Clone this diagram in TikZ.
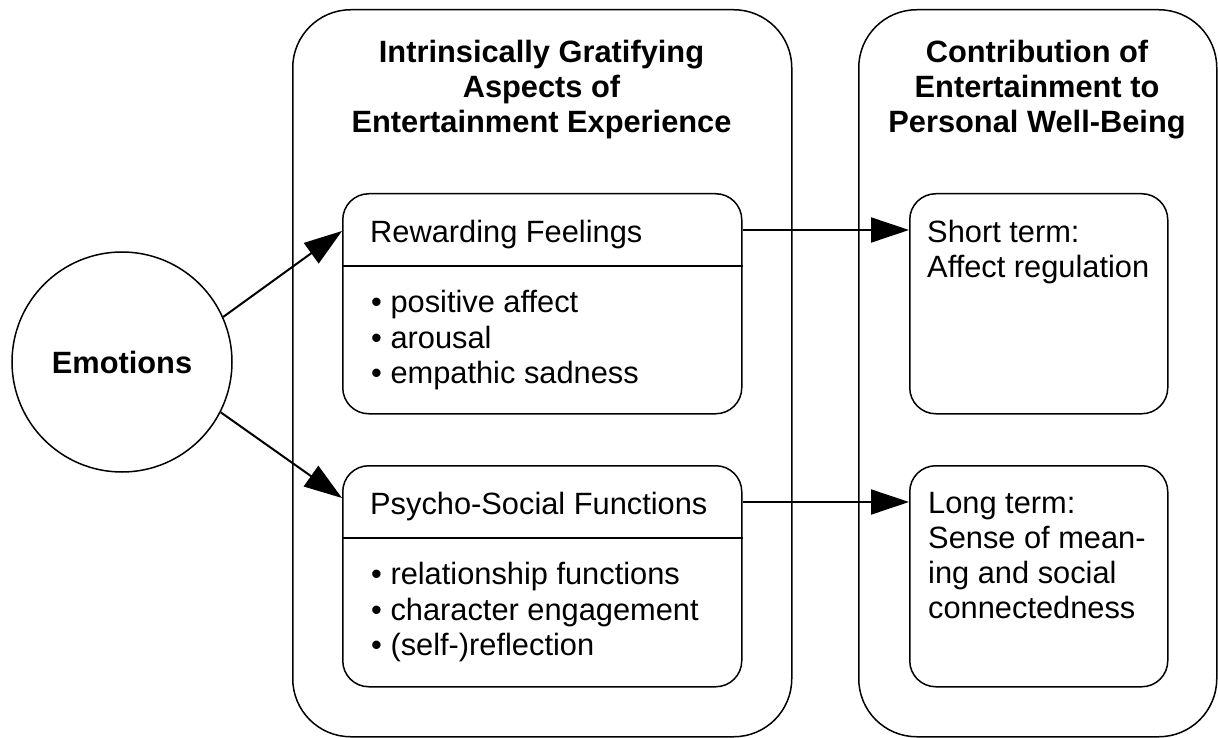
\documentclass[tikz,border=0pt]{standalone}
\usepackage{fontspec}
\setmainfont{Liberation Sans}
\usetikzlibrary{arrows.meta}
\begin{document}
\begin{tikzpicture}[x=1pt,y=-1pt,
  outerbox/.style={draw, line width=1.5pt, rounded corners=58pt, anchor=north west, inner sep=0pt},
  innerbox/.style={draw, line width=1.5pt, rounded corners=26pt, anchor=north west, inner sep=0pt},
  txt/.style={anchor=base west, inner sep=0pt, font=\fontsize{30.8}{35}\selectfont},
  ttl/.style={anchor=base, inner sep=0pt, font=\fontsize{30.8}{35}\selectfont\bfseries},
  arr/.style={-{Triangle[length=38pt,width=25pt]}, line width=2pt}]
\useasboundingbox (0,0) rectangle (1218,738);
\fill[white] (0,0) rectangle (1218,738);

% columns
\node[outerbox, minimum width=499pt, minimum height=727pt] (col1) at (292,9) {};
\node[outerbox, minimum width=358pt, minimum height=727pt] (col2) at (858,9) {};

% titles
\node[ttl] (t1a) at (541.5,63) {Intrinsically Gratifying};
\node[ttl] (t1b) at (541.5,98) {Aspects of};
\node[ttl] (t1c) at (541.5,133) {Entertainment Experience};
\node[ttl] (t2a) at (1037,63) {Contribution of};
\node[ttl] (t2b) at (1037,98) {Entertainment to};
\node[ttl] (t2c) at (1037,133) {Personal Well-Being};

% emotions
\node[circle, draw, line width=1.5pt, minimum size=220pt, inner sep=0pt,
      font=\fontsize{30.8}{35}\selectfont\bfseries] (emo) at (122,362) {Emotions};

% inner boxes
\node[innerbox, minimum width=399pt, minimum height=220pt] (rf) at (342,193) {};
\node[innerbox, minimum width=399pt, minimum height=221pt] (ps) at (342,465) {};
\node[innerbox, minimum width=258pt, minimum height=220pt] (st) at (909,193) {};
\node[innerbox, minimum width=258pt, minimum height=221pt] (lt) at (909,465) {};

\draw[line width=1.5pt] ([yshift=-73pt]rf.north west) -- ([yshift=-73pt]rf.north east);
\draw[line width=1.5pt] ([yshift=-73pt]ps.north west) -- ([yshift=-73pt]ps.north east);

% texts
\node[txt] (rfh) at (370,242) {Rewarding Feelings};
\node[txt] (rf1) at (371,312) {• positive affect};
\node[txt] (rf2) at (371,348) {• arousal};
\node[txt] (rf3) at (371,383) {• empathic sadness};

\node[txt] (psh) at (370,514) {Psycho-Social Functions};
\node[txt] (ps1) at (371,584) {• relationship functions};
\node[txt] (ps2) at (371,620) {• character engagement};
\node[txt] (ps3) at (371,655) {• (self-)reflection};

\node[txt] (st1) at (927,242) {Short term:};
\node[txt] (st2) at (927,277) {Affect regulation};

\node[txt] (lt1) at (928,513) {Long term:};
\node[txt] (lt2) at (928,548) {Sense of mean-};
\node[txt] (lt3) at (928,583) {ing and social};
\node[txt] (lt4) at (928,618) {connectedness};

% arrows
\draw[arr] (emo.24) -- ([yshift=-38pt]rf.north west);
\draw[arr] (emo.-27) -- ([yshift=-33pt]ps.north west);
\draw[arr] ([yshift=-37pt]rf.north east) -- ([yshift=-37pt]st.north west);
\draw[arr] ([yshift=-37pt]ps.north east) -- ([yshift=-37pt]lt.north west);
\end{tikzpicture}
\end{document}
